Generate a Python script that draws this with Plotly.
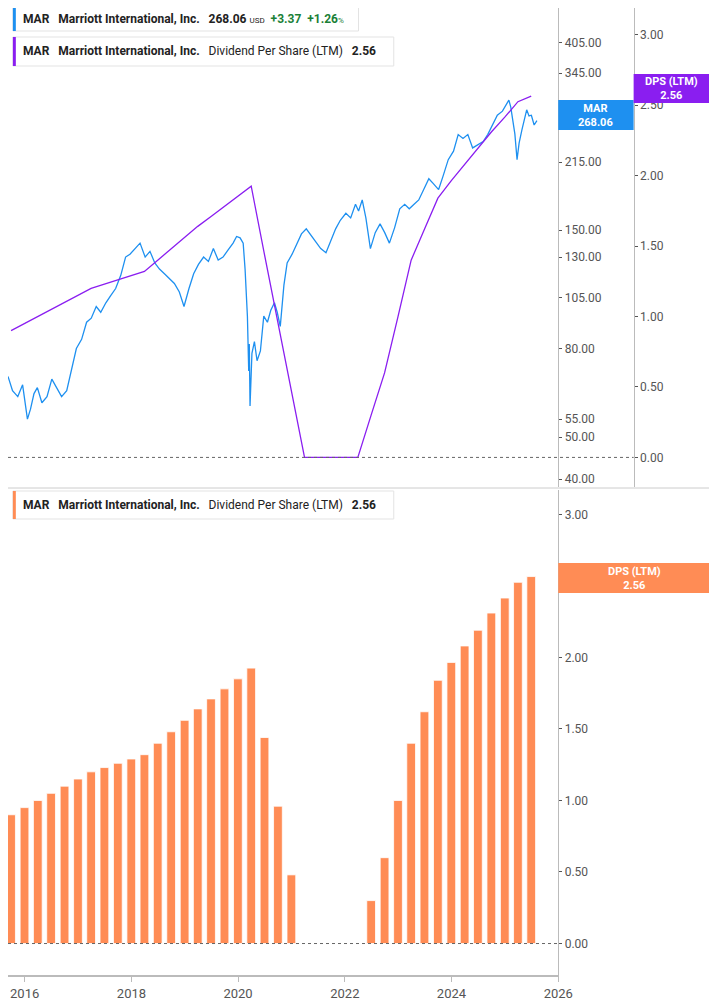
import pandas as pd
import plotly.graph_objects as go

# MAR share price (USD)
price_dates = [
    "2015-09-09", "2015-10-10", "2015-11-15", "2015-12-18", "2016-01-20", "2016-02-10",
    "2016-03-05", "2016-03-28", "2016-04-28", "2016-06-02", "2016-07-05", "2016-08-08",
    "2016-09-10", "2016-10-15", "2016-11-20", "2016-12-20", "2017-01-25", "2017-02-28",
    "2017-04-01", "2017-05-05", "2017-06-05", "2017-07-10", "2017-08-12", "2017-09-15",
    "2017-10-20", "2017-11-22", "2017-12-22", "2018-01-26", "2018-03-01", "2018-04-05",
    "2018-05-08", "2018-06-10", "2018-07-12", "2018-08-15", "2018-09-18", "2018-10-22",
    "2018-11-25", "2018-12-27", "2019-01-30", "2019-03-03", "2019-04-05", "2019-05-10",
    "2019-06-12", "2019-07-16", "2019-08-18", "2019-09-20", "2019-10-25", "2019-11-28",
    "2019-12-22", "2020-01-15", "2020-02-05", "2020-02-18", "2020-03-05", "2020-03-14",
    "2020-03-18", "2020-03-23", "2020-04-05", "2020-04-22", "2020-05-10", "2020-06-02",
    "2020-06-25", "2020-07-20", "2020-08-12", "2020-09-06", "2020-09-25", "2020-10-16",
    "2020-11-10", "2020-12-02", "2021-01-05", "2021-02-06", "2021-03-10", "2021-04-12",
    "2021-05-15", "2021-06-20", "2021-07-20", "2021-08-25", "2021-09-25", "2021-10-30",
    "2021-12-01", "2022-01-08", "2022-02-10", "2022-03-15", "2022-04-05", "2022-04-30",
    "2022-05-25", "2022-06-25", "2022-07-28", "2022-08-30", "2022-10-01", "2022-11-02",
    "2022-12-08", "2023-01-12", "2023-02-15", "2023-03-18", "2023-04-20", "2023-05-22",
    "2023-06-25", "2023-07-30", "2023-08-30", "2023-10-05", "2023-11-05", "2023-12-10",
    "2024-01-15", "2024-02-16", "2024-03-20", "2024-04-22", "2024-05-25", "2024-06-28",
    "2024-08-05", "2024-09-05", "2024-10-08", "2024-11-10", "2024-12-15", "2025-01-28",
    "2025-02-10", "2025-02-18", "2025-03-10", "2025-03-25", "2025-04-08", "2025-04-28",
    "2025-05-15", "2025-05-30", "2025-06-15", "2025-07-01", "2025-07-20", "2025-08-08",
]
price_values = [
    69, 64, 62, 66, 55, 58,
    63, 65, 60, 62, 68, 65,
    62, 64, 72, 80, 84, 92,
    94, 100, 97, 102, 106, 110,
    118, 130, 132, 136, 140, 130,
    134, 126, 122, 119, 116, 113,
    108, 100, 110, 119, 125, 130,
    127, 136, 128, 130, 135, 140,
    145, 144, 140, 122, 95, 71,
    82, 59, 78, 83, 75, 79,
    95, 92, 98, 102, 97, 90,
    112, 126, 132, 140, 147, 151,
    146, 140, 136, 133, 141, 151,
    158, 164, 160, 172, 166, 176,
    160, 136, 148, 155, 148, 140,
    152, 168, 172, 168, 172, 176,
    186, 197, 192, 186, 200, 218,
    228, 249, 244, 249, 232, 236,
    240, 249, 262, 276, 282, 299,
    288, 276, 250, 218, 238, 256,
    270, 284, 275, 276, 262, 268.06,
]

# Dividend per share (LTM), quarterly
dps_dates = [
    "2015-09-30", "2015-12-31", "2016-03-31", "2016-06-30", "2016-09-30", "2016-12-31",
    "2017-03-31", "2017-06-30", "2017-09-30", "2017-12-31", "2018-03-31", "2018-06-30",
    "2018-09-30", "2018-12-31", "2019-03-31", "2019-06-30", "2019-09-30", "2019-12-31",
    "2020-03-31", "2020-06-30", "2020-09-30", "2020-12-31", "2021-03-31", "2021-06-30",
    "2021-09-30", "2021-12-31", "2022-03-31", "2022-06-30", "2022-09-30", "2022-12-31",
    "2023-03-31", "2023-06-30", "2023-09-30", "2023-12-31", "2024-03-31", "2024-06-30",
    "2024-09-30", "2024-12-31", "2025-03-31", "2025-06-30",
]
dps_values = [
    0.90, 0.95, 1.00, 1.05, 1.10, 1.15,
    1.20, 1.23, 1.26, 1.29, 1.32, 1.40,
    1.48, 1.56, 1.64, 1.71, 1.78, 1.85,
    1.925, 1.44, 0.96, 0.48, 0, 0,
    0, 0, 0, 0.30, 0.60, 1.00,
    1.40, 1.62, 1.84, 1.965, 2.08, 2.19,
    2.31, 2.415, 2.525, 2.565,
]

price_ticks = [40, 50, 55, 80, 105, 130, 150, 215, 280, 345, 405]
dps_ticks = [0, 0.5, 1.0, 1.5, 2.0, 2.5, 3.0]

BLUE = "#1E90F0"
PURPLE = "#8A1EF0"
ORANGE = "#FF8C55"
GREY = "#555555"
OFF = 8
W, H, B = 717, 1005 - OFF, 30
PH = H - B  # plotting height in px


def py(px_y):
    # reference pixel row -> paper y
    return (PH - (px_y - OFF)) / PH


def px_(px_x):
    return px_x / W


fig = go.Figure()
fig.add_trace(go.Scatter(x=pd.to_datetime(price_dates), y=price_values, mode="lines",
                         line=dict(color=BLUE, width=1.3), xaxis="x", yaxis="y"))
fig.add_trace(go.Scatter(x=pd.to_datetime(dps_dates), y=dps_values, mode="lines",
                         line=dict(color=PURPLE, width=1.3), xaxis="x", yaxis="y2"))
fig.add_trace(go.Bar(x=pd.to_datetime(dps_dates), y=dps_values,
                     marker=dict(color=ORANGE, line=dict(color="white", width=0.8)),
                     width=60 * 24 * 3600 * 1000, xaxis="x2", yaxis="y3"))

# x range so that 2016 sits at ~17px and 2026 at 562px of the reference
xr = ["2015-09-09", "2026-01-01"]
tickfont = dict(family="Roboto", size=12, color=GREY)
fig.update_layout(
    width=W, height=H, margin=dict(l=0, r=0, t=0, b=B),
    plot_bgcolor="white", paper_bgcolor="white", showlegend=False,
    font=dict(family="Roboto", size=12, color="#222"),
    xaxis=dict(domain=[0, px_(562)], range=xr, anchor="y", showticklabels=False,
               showgrid=False, zeroline=False, matches="x2"),
    xaxis2=dict(domain=[0, px_(562)], range=xr, anchor="y3", showgrid=False, zeroline=False,
                showline=True, linecolor="#bbbbbb", linewidth=2, ticks="outside", ticklen=5,
                tickcolor="#bbbbbb", dtick="M24", tick0="2016-01-01", tickformat="%Y",
                tickfont=dict(family="Roboto", size=13, color=GREY)),
    yaxis=dict(domain=[py(487), 1], type="log", range=[1.584, 2.688], side="right", anchor="x",
               tickvals=price_ticks, ticktext=[f"{v:.2f}" for v in price_ticks],
               showgrid=False, zeroline=False, showline=True, linecolor="#bbbbbb",
               ticks="outside", ticklen=3, tickcolor=GREY, tickfont=tickfont),
    yaxis2=dict(domain=[py(487), 1], range=[-0.21, 3.19], overlaying="y", side="right",
                anchor="free", position=px_(639), tickvals=dps_ticks,
                ticktext=[f"{v:.2f}" for v in dps_ticks], showgrid=False, zeroline=False,
                showline=True, linecolor="#bbbbbb", ticks="outside", ticklen=3,
                tickcolor=GREY, tickfont=tickfont),
    yaxis3=dict(domain=[0, py(490)], range=[-0.22, 3.17], side="right", anchor="x2",
                tickvals=dps_ticks, ticktext=[f"{v:.2f}" for v in dps_ticks],
                showgrid=False, zeroline=False, showline=True, linecolor="#bbbbbb",
                ticks="outside", ticklen=3, tickcolor=GREY, tickfont=tickfont),
)

shapes = [
    # panel separator
    dict(type="line", xref="paper", yref="paper", x0=0, x1=1, y0=py(488), y1=py(488),
         line=dict(color="#cccccc", width=1)),
    # zero reference lines
    dict(type="line", xref="paper", yref="y2", x0=0, x1=px_(639), y0=0, y1=0,
         line=dict(color="#666666", width=1, dash="dot")),
    dict(type="line", xref="paper", yref="y3", x0=0, x1=px_(562), y0=0, y1=0,
         line=dict(color="#666666", width=1, dash="dot")),
]
annotations = []


def legend_box(y0, y1, x1, color, text):
    shapes.append(dict(type="rect", xref="paper", yref="paper", x0=px_(5), x1=px_(x1),
                       y0=py(y1), y1=py(y0), line=dict(color="#e3e3e3", width=1),
                       fillcolor="white", layer="above"))
    shapes.append(dict(type="rect", xref="paper", yref="paper", x0=px_(5), x1=px_(8),
                       y0=py(y1), y1=py(y0), line=dict(width=0), fillcolor=color, layer="above"))
    annotations.append(dict(xref="paper", yref="paper", x=px_(13), y=py((y0 + y1) / 2),
                            xanchor="left", yanchor="middle", showarrow=False, text=text,
                            font=dict(family="Roboto", size=12, color="#222")))


name = "<b>MAR</b>   <b>Marriott International, Inc.</b>   "
legend_box(6, 31, 358, BLUE,
           name + "<b>268.06</b> <span style='font-size:8px'>USD</span>  "
           "<span style='color:#1a7f37'><b>+3.37  +1.26</b><span style='font-size:8px'>%</span></span>")
dps_text = name + "Dividend Per Share (LTM)   <b>2.56</b>"
legend_box(37, 66, 394, PURPLE, dps_text)
legend_box(491, 519, 394, ORANGE, dps_text)


def value_tag(x0, x1, y0, y1, color, text):
    shapes.append(dict(type="rect", xref="paper", yref="paper", x0=px_(x0), x1=px_(x1),
                       y0=py(y1), y1=py(y0), line=dict(width=0), fillcolor=color, layer="above"))
    annotations.append(dict(xref="paper", yref="paper", x=px_((x0 + x1) / 2), y=py((y0 + y1) / 2),
                            xanchor="center", yanchor="middle", showarrow=False, text=text,
                            font=dict(family="Roboto", size=11, color="white")))


value_tag(562, 639, 100, 130, BLUE, "<b>MAR<br>268.06</b>")
value_tag(639, 717, 74, 103, PURPLE, "<b>DPS (LTM)<br>2.56</b>")
value_tag(562, 717, 563, 593, ORANGE, "<b>DPS (LTM)<br>2.56</b>")

fig.update_layout(shapes=shapes, annotations=annotations)
fig.write_html("out.html")
